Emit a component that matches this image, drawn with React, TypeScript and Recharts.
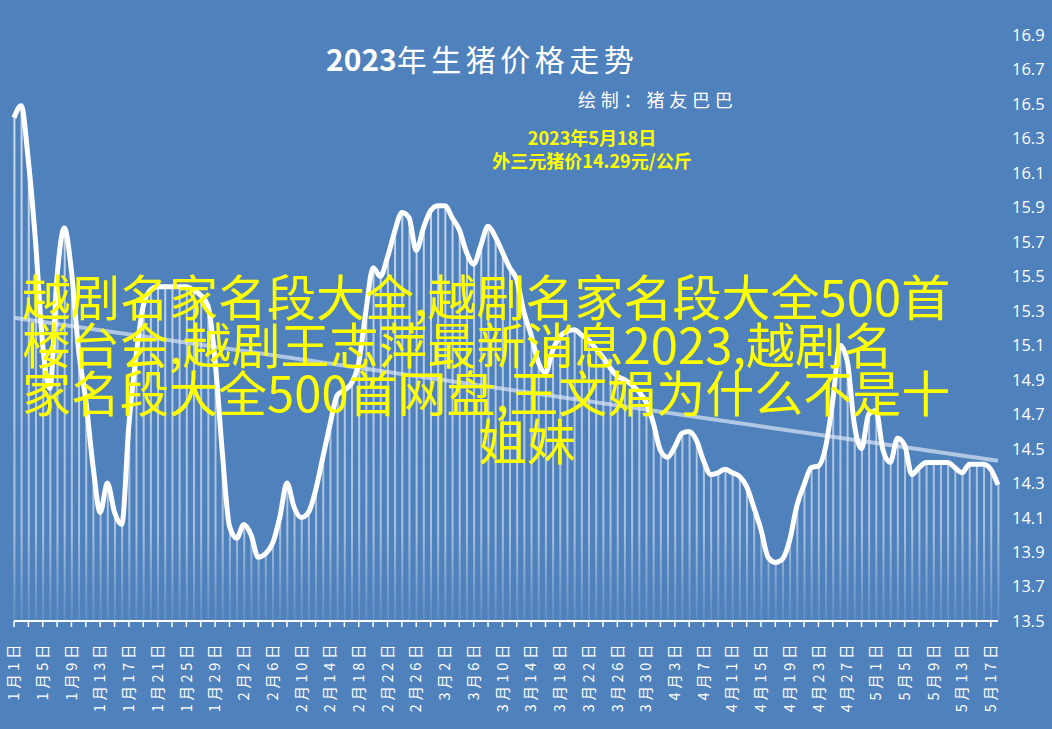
import { ComposedChart, Line, Bar, XAxis, YAxis, ReferenceLine } from 'recharts'

// days per month shown (Jan 1 .. May 18)
const monthDays = [31, 28, 31, 30, 18]
const dates: string[] = []
monthDays.forEach((n, m) => {
  for (let d = 1; d <= n; d++) dates.push(`${m + 1}月${d}日`)
})

// 外三元 price, 元/公斤
const prices = [
  16.42, 16.49, 16.17, 15.7, 15.1, 14.85, 15.5, 15.78, 15.53, 15.07,
  14.78, 14.4, 14.13, 14.3, 14.13, 14.06, 14.64, 15.04, 15.33, 15.42,
  15.44, 15.44, 15.44, 15.44, 15.44, 15.42, 15.39, 15.33, 15.01, 14.48,
  14.05, 13.98, 14.06, 14.0, 13.87, 13.89, 13.95, 14.1, 14.3, 14.16,
  14.1, 14.13, 14.26, 14.45, 14.64, 14.81, 14.84, 14.88, 15.0, 15.3,
  15.55, 15.5, 15.61, 15.76, 15.87, 15.84, 15.65, 15.78, 15.88, 15.91,
  15.91, 15.84, 15.77, 15.64, 15.57, 15.68, 15.79, 15.73, 15.64, 15.55,
  15.48, 15.29, 15.16, 15.0, 14.94, 15.07, 15.15, 15.18, 15.19, 15.16,
  15.13, 15.08, 15.03, 14.97, 14.92, 14.9, 14.87, 14.83, 14.77, 14.65,
  14.49, 14.45, 14.51, 14.59, 14.6, 14.55, 14.43, 14.35, 14.36, 14.38,
  14.36, 14.34, 14.28, 14.16, 14.03, 13.87, 13.84, 13.86, 13.97, 14.17,
  14.29, 14.39, 14.4, 14.51, 14.78, 15.1, 15.01, 14.64, 14.5, 14.7,
  14.72, 14.49, 14.42, 14.56, 14.52, 14.35, 14.39, 14.42, 14.42, 14.42,
  14.42, 14.39, 14.36, 14.41, 14.41, 14.41, 14.38, 14.29,
]

const yTicks = [
  13.5, 13.7, 13.9, 14.1, 14.3, 14.5, 14.7, 14.9, 15.1, 15.3, 15.5, 15.7, 15.9,
  16.1, 16.3, 16.5, 16.7, 16.9,
]

// linear trend line end points
const trendDates = ['1月1日', '5月18日']
const trendValues = [15.26, 14.43]

const title = '2023年生猪价格走势'
const author = '绘制：猪友巴巴'
const noteLines = ['2023年5月18日', '外三元猪价14.29元/公斤']
const overlayLines = [
  '越剧名家名段大全,越剧名家名段大全500首',
  '楼台会,越剧王志萍最新消息2023,越剧名',
  '家名段大全500首网盘,王文娟为什么不是十',
  '姐妹',
]

const data = dates.map((date, i) => ({ date, price: prices[i] }))

const BG = '#4f81bd'
const CJK = '"Noto Sans CJK SC", "Noto Sans", sans-serif'

const DateTick = ({ x, y, payload }: any) => {
  const idx = dates.indexOf(payload.value)
  if (idx % 4 !== 0) return null
  return (
    <text
      transform={`translate(${x},${y + 14}) rotate(-90)`}
      textAnchor="end"
      dy="0.36em"
      fill="#fff"
      fontSize={14.5}
      letterSpacing={3.6}
      fontFamily={CJK}
    >
      {payload.value}
    </text>
  )
}

const PriceTick = ({ x, y, payload }: any) => (
  <text x={x} y={y} dy="0.36em" fill="#fff" fontSize={16.5} fontFamily="'Open Sans', sans-serif">
    {payload.value.toFixed(1)}
  </text>
)

export default function App() {
  return (
    <div style={{ position: 'absolute', left: 0, top: 0, width: 1052, height: 729, background: BG, overflow: 'hidden' }}>
      <ComposedChart
        width={1052}
        height={729}
        data={data}
        margin={{ top: 35, right: 0, left: 14, bottom: 0 }}
      >
        <defs>
          <linearGradient id="drop" gradientUnits="userSpaceOnUse" x1="0" y1="35" x2="0" y2="621">
            <stop offset="0" stopColor="#fff" stopOpacity={0.75} />
            <stop offset="0.85" stopColor="#fff" stopOpacity={0.5} />
            <stop offset="1" stopColor="#fff" stopOpacity={0.08} />
          </linearGradient>
        </defs>
        <XAxis
          dataKey="date"
          scale="point"
          interval={1}
          height={108}
          axisLine={{ stroke: '#fff', strokeWidth: 2 }}
          tickLine={{ stroke: '#fff', strokeWidth: 1.5 }}
          tickSize={6}
          tickMargin={0}
          tick={<DateTick />}
        />
        <YAxis
          orientation="right"
          domain={[13.5, 16.9]}
          ticks={yTicks}
          width={54}
          axisLine={false}
          tickLine={false}
          tickSize={0}
          tickMargin={14}
          tick={<PriceTick />}
        />
        <Bar dataKey="price" barSize={2} fill="url(#drop)" isAnimationActive={false} />
        <ReferenceLine
          segment={[
            { x: trendDates[0], y: trendValues[0] },
            { x: trendDates[1], y: trendValues[1] },
          ]}
          stroke="rgba(220,230,245,0.7)"
          strokeWidth={4}
        />
        <Line
          dataKey="price"
          type="monotone"
          stroke="#fff"
          strokeWidth={5}
          dot={false}
          isAnimationActive={false}
        />
      </ComposedChart>

      <svg width={1052} height={729} style={{ position: 'absolute', left: 0, top: 0, pointerEvents: 'none' }}>
        <text x={326} y={71} fill="#fff" fontSize={30} fontFamily={CJK}>
          <tspan fontWeight="bold">{title.slice(0, 4)}</tspan>
          <tspan letterSpacing={4.5}>{title.slice(4)}</tspan>
        </text>
        <text x={578} y={107} fill="#fff" fontSize={18} letterSpacing={4.8} fontFamily={CJK}>
          {author}
        </text>
        {noteLines.map((t, i) => (
          <text key={t} x={592} y={145 + i * 23} textAnchor="middle" fill="#ffff00" fontSize={18} fontWeight="bold" fontFamily={CJK}>
            {t}
          </text>
        ))}
        {overlayLines.map((t, i) => (
          <text
            key={t}
            x={i === 3 ? 527 : 22}
            y={316 + i * 48}
            textAnchor={i === 3 ? 'middle' : 'start'}
            fill="#ffff00"
            fontSize={49}
            fontFamily={CJK}
          >
            {t}
          </text>
        ))}
      </svg>
    </div>
  )
}
